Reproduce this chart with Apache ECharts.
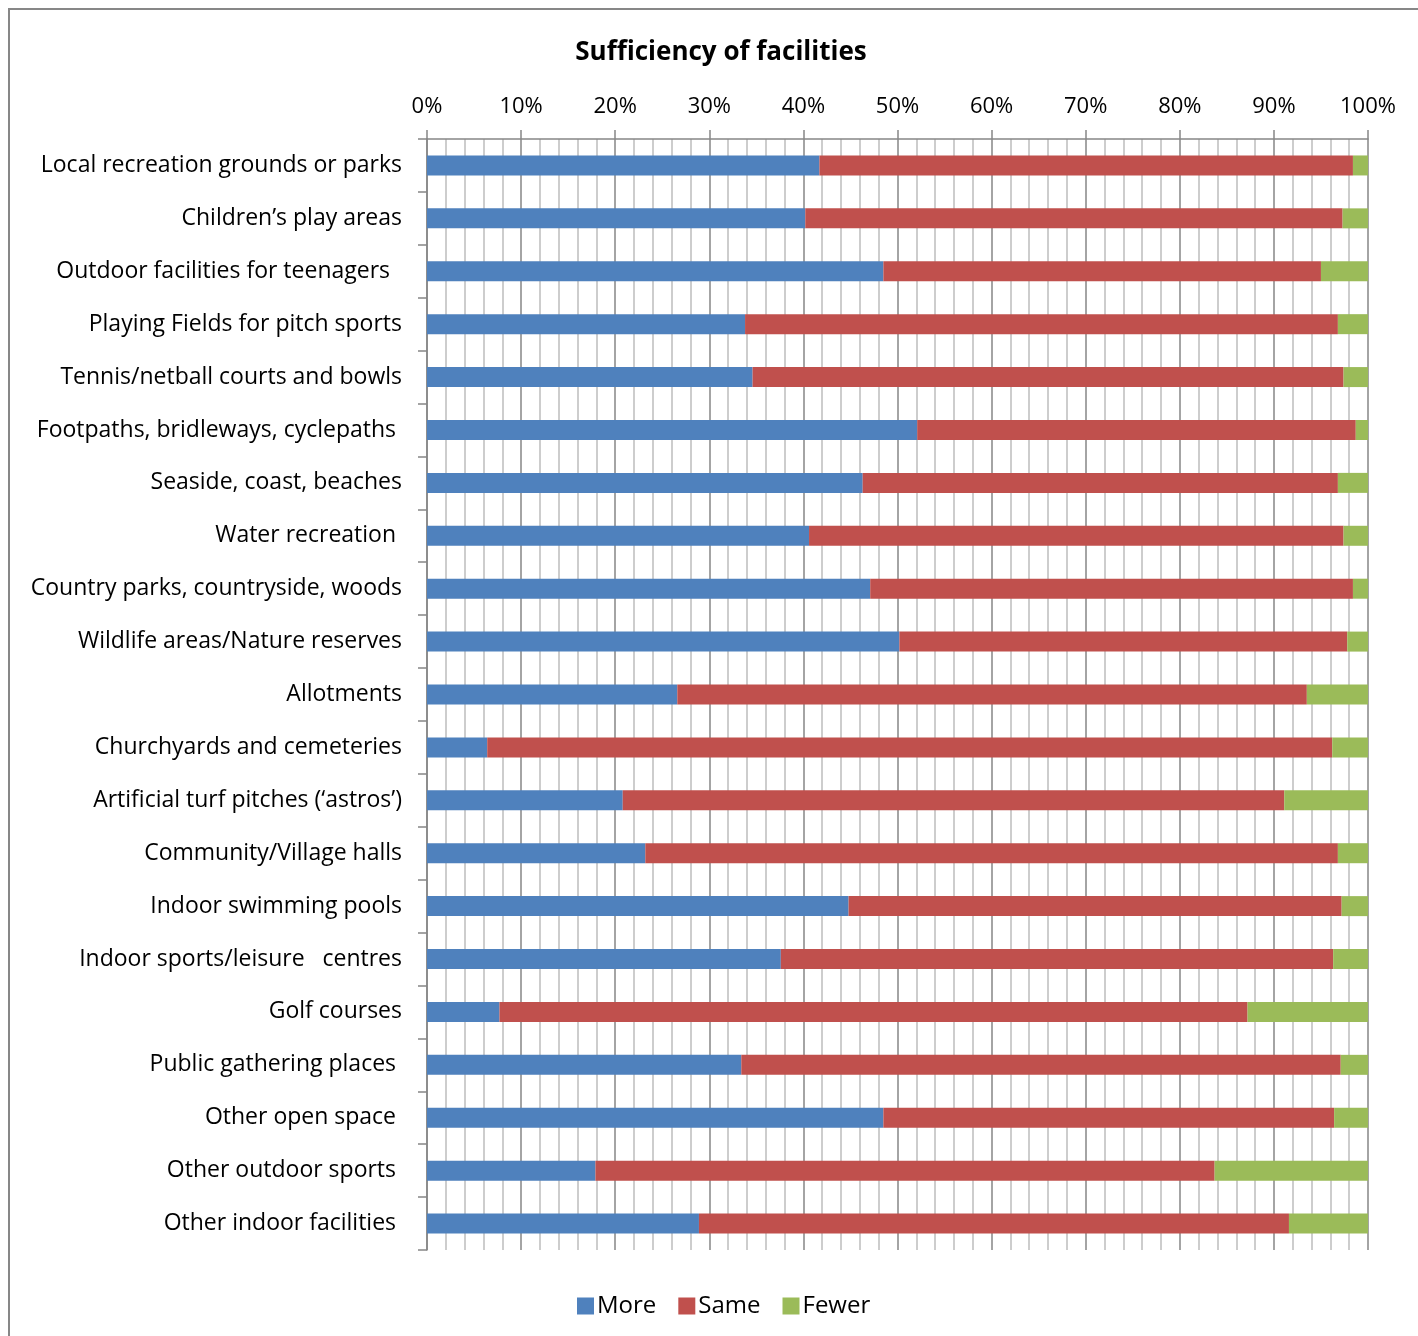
<!DOCTYPE html>
<html>
<head>
<meta charset="utf-8">
<title>Sufficiency of facilities</title>
<script src="https://cdn.jsdelivr.net/npm/echarts@6/dist/echarts.min.js"></script>
<style>
  html, body { margin: 0; padding: 0; background: #fff; }
  #chart { width: 1418px; height: 1336px; }
</style>
</head>
<body>
<div id="chart"></div>
<script>
// Facility categories, listed top to bottom
const categories = [
  'Local recreation grounds or parks',
  'Children\u2019s play areas',
  'Outdoor facilities for teenagers  ',
  'Playing Fields for pitch sports',
  'Tennis/netball courts and bowls',
  'Footpaths, bridleways, cyclepaths ',
  'Seaside, coast, beaches',
  'Water recreation ',
  'Country parks, countryside, woods',
  'Wildlife areas/Nature reserves',
  'Allotments',
  'Churchyards and cemeteries',
  'Artificial turf pitches (\u2018astros\u2019)',
  'Community/Village halls',
  'Indoor swimming pools',
  'Indoor sports/leisure   centres',
  'Golf courses',
  'Public gathering places ',
  'Other open space ',
  'Other outdoor sports ',
  'Other indoor facilities '
];

// Share of responses (%) per category
const moreValues  = [41.7, 40.2, 48.5, 33.8, 34.6, 52.1, 46.3, 40.6, 47.1, 50.2, 26.6, 6.4, 20.8, 23.2, 44.8, 37.6, 7.7, 33.4, 48.5, 17.9, 28.9];
const sameValues  = [56.7, 57.1, 46.5, 63.0, 62.8, 46.6, 50.5, 56.8, 51.3, 47.6, 66.9, 89.8, 70.3, 73.6, 52.4, 58.7, 79.5, 63.7, 47.9, 65.8, 62.7];
const fewerValues = [1.6, 2.7, 5.0, 3.2, 2.6, 1.3, 3.2, 2.6, 1.6, 2.2, 6.5, 3.8, 8.9, 3.2, 2.8, 3.7, 12.8, 2.9, 3.6, 16.3, 8.4];

const seriesNames = ['More', 'Same', 'Fewer'];
const seriesColors = ['#4f81bd', '#c0504d', '#9bbb59'];

const FONT = '"Open Sans", Lato, sans-serif';
const chart = echarts.init(document.getElementById('chart'), null, { renderer: 'canvas' });

const makeSeries = (name, data, color) => ({
  name: name,
  type: 'bar',
  stack: 'total',
  data: data,
  barWidth: 20,
  itemStyle: { color: color },
  emphasis: { disabled: true }
});

chart.setOption({
  animation: false,
  backgroundColor: '#ffffff',
  textStyle: { fontFamily: FONT },
  graphic: [{
    type: 'rect',
    shape: { x: 9, y: 9, width: 1600, height: 1600 },
    style: { fill: 'none', stroke: '#878787', lineWidth: 2 },
    silent: true
  }],
  title: {
    text: 'Sufficiency of facilities',
    left: 716,
    textAlign: 'center',
    top: 35,
    textStyle: { fontFamily: FONT, fontSize: 26, fontWeight: 'bold', color: '#000' }
  },
  legend: {
    data: seriesNames,
    bottom: 13,
    left: 572,
    itemWidth: 17,
    itemHeight: 17,
    itemGap: 22,
    icon: 'rect',
    textStyle: { fontFamily: FONT, fontSize: 24, color: '#000', padding: [0, 0, 0, -2] }
  },
  grid: { left: 427, right: 50, top: 139, bottom: 86, containLabel: false },
  xAxis: {
    type: 'value',
    position: 'top',
    min: 0,
    max: 100,
    interval: 10,
    axisLabel: {
      formatter: '{value}%',
      fontFamily: FONT,
      fontSize: 22,
      color: '#000',
      margin: 21
    },
    axisLine: { show: true, lineStyle: { color: '#868686', width: 1.5 } },
    axisTick: { show: true, length: 9, lineStyle: { color: '#868686', width: 1.5 } },
    minorTick: { show: false, splitNumber: 5 },
    splitLine: { show: true, lineStyle: { color: '#868686', width: 1.5 } },
    minorSplitLine: { show: true, lineStyle: { color: '#bdbdbd', width: 1.5 } }
  },
  yAxis: {
    type: 'category',
    inverse: true,
    data: categories,
    axisLabel: {
      fontFamily: FONT,
      fontSize: 23,
      color: '#000',
      margin: 25,
      padding: [3, 0, 0, 0]
    },
    axisLine: { show: true, lineStyle: { color: '#868686', width: 1.5 } },
    axisTick: { show: true, length: 9, lineStyle: { color: '#868686', width: 1.5 } },
    splitLine: { show: false }
  },
  series: [
    makeSeries(seriesNames[0], moreValues, seriesColors[0]),
    makeSeries(seriesNames[1], sameValues, seriesColors[1]),
    makeSeries(seriesNames[2], fewerValues, seriesColors[2])
  ]
});
</script>
</body>
</html>
